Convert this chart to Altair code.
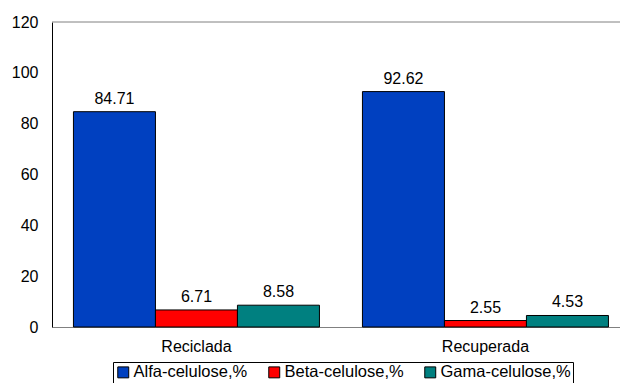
import altair as alt
import pandas as pd

# Cellulose fractions (%) for the two pulp types
categories = ["Reciclada", "Recuperada"]
series = ["Alfa-celulose,%", "Beta-celulose,%", "Gama-celulose,%"]
alfa = [84.71, 92.62]
beta = [6.71, 2.55]
gama = [8.58, 4.53]
colors = ["#0040C0", "#FF0000", "#008080"]
y_ticks = [0, 20, 40, 60, 80, 100, 120]

rows = []
for s, vals in zip(series, [alfa, beta, gama]):
    for c, v in zip(categories, vals):
        rows.append({"tipo": c, "fracao": s, "valor": v})
df = pd.DataFrame(rows)

FONT = "Liberation Sans"
FS = 16

x_enc = alt.X(
    "tipo:N",
    sort=categories,
    title=None,
    scale=alt.Scale(paddingInner=0.1488, paddingOuter=0.0571, align=0.65),
    axis=alt.Axis(labelAngle=0, ticks=False, domainColor="#808080",
                  labelPadding=11, labelFontSize=FS, labelColor="#000000",
                  labelFont=FONT),
)
xoff = alt.XOffset("fracao:N", sort=series,
                   scale=alt.Scale(paddingInner=0, paddingOuter=0))
y_enc = alt.Y(
    "valor:Q",
    title=None,
    scale=alt.Scale(domain=[0, 120], nice=False),
    axis=alt.Axis(values=y_ticks, grid=False, ticks=False, domainColor="#000000",
                  labelPadding=14, labelFontSize=FS, labelColor="#000000",
                  labelFont=FONT),
)

bars = alt.Chart(df).mark_bar(stroke="#000000", strokeWidth=1).encode(
    x=x_enc,
    xOffset=xoff,
    y=y_enc,
    color=alt.Color(
        "fracao:N",
        sort=series,
        scale=alt.Scale(domain=series, range=colors),
        legend=alt.Legend(
            title=None, orient="none", direction="horizontal",
            legendX=61, legendY=340,
            strokeColor="#000000", padding=2,
            symbolType="square", symbolSize=120,
            symbolStrokeColor="#000000", symbolStrokeWidth=1,
            labelFontSize=16.5, labelFont=FONT, labelColor="#000000",
            labelOffset=2, columnPadding=18,
        ),
    ),
)

labels = alt.Chart(df).mark_text(
    baseline="bottom", dy=-5, fontSize=FS, font=FONT, color="#000000"
).encode(
    x=alt.X("tipo:N", sort=categories),
    xOffset=xoff,
    y="valor:Q",
    text=alt.Text("valor:Q", format=".2f"),
)

top_border = alt.Chart(pd.DataFrame({"v": [120]})).mark_rule(
    color="#808080", strokeWidth=1
).encode(y="v:Q")

chart = (
    alt.layer(bars, labels, top_border)
    .properties(
        width=568,
        height=305,
        autosize=alt.AutoSizeParams(type="none"),
        padding={"left": 52, "top": 22, "right": 0, "bottom": 56},
        background="#FFFFFF",
    )
    .configure_view(stroke=None)
)

chart.save("out.html", embed_options={"renderer": "svg", "actions": False})
